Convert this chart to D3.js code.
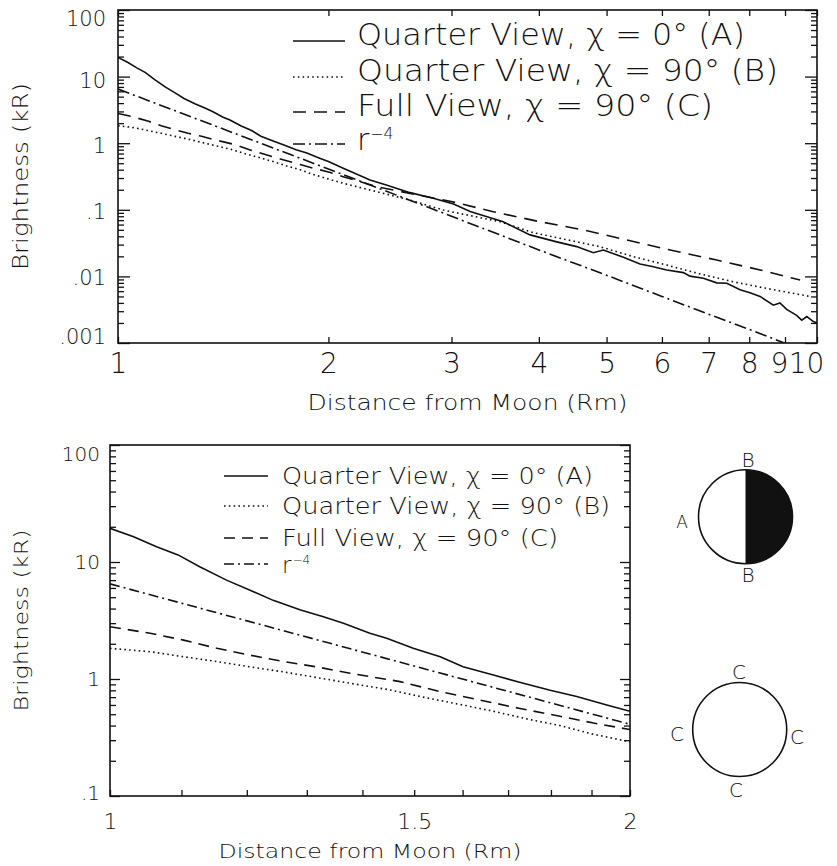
<!DOCTYPE html>
<html><head><meta charset="utf-8">
<script src="https://cdn.jsdelivr.net/npm/d3@7"></script>
<style>
body{margin:0;background:#fff;}
svg text{fill:#111;}
</style></head><body>
<svg id="c" width="837" height="866" xmlns="http://www.w3.org/2000/svg"></svg>
<script>
// ---------------- DATA ----------------
// Series A: Quarter View, chi = 0 deg (solid)
const distA = [1, 1.032, 1.064, 1.095, 1.127, 1.168, 1.21, 1.243, 1.288, 1.329, 1.365, 1.414, 1.446, 1.498, 1.553, 1.601, 1.667, 1.735, 1.798, 1.863, 1.939, 2.0, 2.1, 2.294, 2.42, 2.617, 2.825, 3.02, 3.19, 3.557, 3.886, 4.243, 4.531, 4.786, 4.947, 5.284, 5.582, 5.833, 6.095, 6.44, 6.58, 6.877, 7.187, 7.43, 7.76, 8.02, 8.29, 8.66, 8.85, 9.05, 9.35, 9.51, 9.67, 9.88, 10];
const brightA = [19.4, 16.4, 13.5, 11.5, 9.1, 7.0, 5.6, 4.7, 3.9, 3.4, 3.0, 2.46, 2.23, 1.83, 1.55, 1.27, 1.08, 0.92, 0.80, 0.71, 0.60, 0.53, 0.42, 0.28, 0.235, 0.181, 0.149, 0.122, 0.094, 0.066, 0.042, 0.033, 0.028, 0.0227, 0.0249, 0.0194, 0.0154, 0.0140, 0.0125, 0.0114, 0.0101, 0.0094, 0.0080, 0.0079, 0.0063, 0.0057, 0.0050, 0.0037, 0.0040, 0.0032, 0.0026, 0.0022, 0.0025, 0.0021, 0.0020];
// Series B: Quarter View, chi = 90 deg (dotted)
const distB = [1, 1.055, 1.103, 1.153, 1.205, 1.26, 1.317, 1.377, 1.45, 1.525, 1.6, 1.667, 1.75, 1.822, 1.9, 2.0, 2.1, 2.345, 2.617, 2.92, 3.332, 3.52, 3.928, 4.289, 4.893, 5.46, 6.095, 6.80, 7.59, 8.47, 9.77];
const brightB = [1.83, 1.71, 1.55, 1.41, 1.27, 1.15, 1.03, 0.92, 0.81, 0.69, 0.60, 0.53, 0.45, 0.40, 0.34, 0.29, 0.25, 0.187, 0.140, 0.099, 0.0745, 0.0662, 0.0453, 0.0373, 0.0279, 0.0198, 0.0148, 0.0109, 0.0083, 0.0066, 0.0050];
// Series C: Full View, chi = 90 deg (dashed)
const distC = [1, 1.055, 1.103, 1.153, 1.205, 1.26, 1.317, 1.377, 1.472, 1.553, 1.638, 1.727, 1.822, 1.905, 2.0, 2.1, 2.345, 3.05, 3.443, 4.015, 4.632, 5.343, 6.164, 7.187, 8.29, 9.46];
const brightC = [2.80, 2.46, 2.15, 1.83, 1.60, 1.41, 1.27, 1.12, 0.95, 0.78, 0.66, 0.56, 0.48, 0.42, 0.37, 0.314, 0.222, 0.128, 0.0935, 0.0662, 0.0498, 0.0352, 0.0249, 0.0176, 0.0125, 0.0088];
// Series D: r^-4 reference (dash-dot)
const distD = [1, 2, 3, 4, 5, 6, 7, 8, 9, 10];
const brightD = [6.5, 0.41, 0.080, 0.025, 0.0104, 0.0050, 0.0027, 0.0016, 0.00099, 0.00065];

const legendLabels = ["Quarter View, \u03C7 = 0\u00B0 (A)", "Quarter View, \u03C7 = 90\u00B0 (B)", "Full View, \u03C7 = 90\u00B0 (C)", "r"];
const legendSup = "\u22124";

const topXTicks = [1, 2, 3, 4, 5, 6, 7, 8, 9, 10];
const topXTickLabels = ["1", "2", "3", "4", "5", "6", "7", "8", "9", "10"];
const topYTicks = [100, 10, 1, 0.1, 0.01, 0.001];
const topYTickLabels = ["100", "10", "1", ".1", ".01", ".001"];

const bottomXTicks = [1, 1.5, 2];
const bottomXTickLabels = ["1", "1.5", "2"];
const bottomXMinorTicks = [1.1, 1.2, 1.3, 1.4, 1.6, 1.7, 1.8, 1.9];
const bottomYTicks = [100, 10, 1, 0.1];
const bottomYTickLabels = ["100", "10", "1", ".1"];

const xTitle = "Distance from Moon (Rm)";
const yTitle = "Brightness (kR)";
const diagram1Labels = ["B", "B", "A"];
const diagram2Labels = ["C", "C", "C", "C"];

// ---------------- STYLE / LAYOUT ----------------
const FONT = "'DejaVu Sans', 'Noto Sans', sans-serif";
const FW = 200;
const INK = "#111";
const svg = d3.select("#c");

const series = [
  {d: distA, v: brightA},
  {d: distB, v: brightB},
  {d: distC, v: brightC},
  {d: distD, v: brightD}
];

function dashFor(i, big) {
  if (i === 0) return null;
  if (i === 1) return "1.6,3.2";
  if (i === 2) return big ? "13,8" : "11,7";
  return big ? "12,4,2,4" : "10,4,2,4";
}

function panel(o) {
  const x = d3.scaleLog().domain(o.xDomain).range([o.l, o.r]);
  const y = d3.scaleLog().domain(o.yDomain).range([o.b, o.t]);
  const g = svg.append("g");

  const isMajor = v => Math.abs(Math.log10(v) - Math.round(Math.log10(v))) < 1e-6;
  const minorY = y.ticks().filter(v => !isMajor(v));

  const styleAxis = (sel, fs) => {
    sel.attr("font-family", FONT).attr("font-weight", FW).attr("font-size", fs).attr("color", INK);
    sel.select(".domain").remove();
    sel.selectAll(".tick line").attr("stroke-width", 1.3);
  };

  // Left axis majors with labels
  const yl = g.append("g").attr("transform", `translate(${o.l},0)`)
    .call(d3.axisLeft(y).tickValues(o.yTicks).tickSize(-o.majorLen)
      .tickPadding(o.yPad).tickFormat((d, i) => o.yTickLabels[i]))
    .call(s => styleAxis(s, o.yFont));
  if (o.yNudge) yl.selectAll(".tick text").attr("y", (d, i) => o.yNudge[i] || 0);
  g.append("g").attr("transform", `translate(${o.l},0)`)
    .call(d3.axisLeft(y).tickValues(minorY).tickSize(-o.minorLen).tickFormat(""))
    .call(s => styleAxis(s, o.yFont));
  // Right axis
  g.append("g").attr("transform", `translate(${o.r},0)`)
    .call(d3.axisRight(y).tickValues(o.yTicks).tickSize(-o.majorLen).tickFormat(""))
    .call(s => styleAxis(s, o.yFont));
  g.append("g").attr("transform", `translate(${o.r},0)`)
    .call(d3.axisRight(y).tickValues(minorY).tickSize(-o.minorLen).tickFormat(""))
    .call(s => styleAxis(s, o.yFont));
  // Bottom axis
  const xb = g.append("g").attr("transform", `translate(0,${o.b})`)
    .call(d3.axisBottom(x).tickValues(o.xTicks).tickSize(-o.xTickLen)
      .tickPadding(o.xPad).tickFormat((d, i) => o.xTickLabels[i]))
    .call(s => styleAxis(s, o.xFont));
  if (o.xNudge) xb.selectAll(".tick text").attr("dx", (d, i) => o.xNudge[i] || 0);
  if (o.xMinor) {
    g.append("g").attr("transform", `translate(0,${o.b})`)
      .call(d3.axisBottom(x).tickValues(o.xMinor).tickSize(-o.xTickLen).tickFormat(""))
      .call(s => styleAxis(s, o.xFont));
  }
  if (o.topTicks) {
    g.append("g").attr("transform", `translate(0,${o.t})`)
      .call(d3.axisTop(x).tickValues(o.xTicks).tickSize(-o.xTickLen).tickFormat(""))
      .call(s => styleAxis(s, o.xFont));
  }

  // Clip + curves
  const cid = "clip_" + o.name;
  svg.append("clipPath").attr("id", cid).append("rect")
    .attr("x", o.l).attr("y", o.t).attr("width", o.r - o.l).attr("height", o.b - o.t);
  const line = d3.line().x(p => x(p[0])).y(p => y(p[1]));
  const cg = g.append("g").attr("clip-path", `url(#${cid})`);
  series.forEach((s, i) => {
    const pts = s.d.map((r, k) => [r, s.v[k]]);
    cg.append("path").attr("d", line(pts)).attr("fill", "none")
      .attr("stroke", INK).attr("stroke-width", 1.6)
      .attr("stroke-dasharray", dashFor(i, o.big));
  });

  // Frame
  g.append("rect").attr("x", o.l).attr("y", o.t).attr("width", o.r - o.l).attr("height", o.b - o.t)
    .attr("fill", "none").attr("stroke", INK).attr("stroke-width", 1.6);

  // Titles
  g.append("text").attr("x", (o.l + o.r) / 2).attr("y", o.xTitleY)
    .attr("text-anchor", "middle").attr("font-family", FONT).attr("font-weight", FW)
    .attr("font-size", o.titleFont).attr("textLength", o.xTitleLen).attr("lengthAdjust", "spacingAndGlyphs")
    .text(xTitle);
  g.append("text").attr("transform", `translate(${o.yTitleX},${(o.t + o.b) / 2}) rotate(-90)`)
    .attr("text-anchor", "middle").attr("font-family", FONT).attr("font-weight", FW)
    .attr("font-size", o.titleFont).attr("textLength", o.yTitleLen).attr("lengthAdjust", "spacingAndGlyphs")
    .text(yTitle);

  // Legend
  const lg = g.append("g");
  legendLabels.forEach((lab, i) => {
    const ys = o.legSampleY[i];
    lg.append("path").attr("d", d3.line()([[o.legX0, ys], [o.legX1, ys]]))
      .attr("stroke", INK).attr("stroke-width", 1.6).attr("fill", "none")
      .attr("stroke-dasharray", dashFor(i, o.big));
    const t = lg.append("text").attr("x", o.legTextX).attr("y", o.legBaseY[i])
      .attr("font-family", FONT).attr("font-weight", FW).attr("font-size", o.legFont);
    if (i < 3) {
      t.attr("textLength", o.legLens[i]).attr("lengthAdjust", "spacingAndGlyphs").text(lab);
    } else {
      t.text(lab);
      t.append("tspan").attr("dy", -o.legFont * 0.38).attr("dx", 1)
        .attr("font-size", o.legFont * 0.52).text(legendSup);
    }
  });
}

// Top panel
panel({
  name: "top", big: true,
  l: 118, r: 817, t: 10, b: 343,
  xDomain: [1, 10], yDomain: [0.001, 100],
  xTicks: topXTicks, xTickLabels: topXTickLabels, xNudge: [0, 0, 0, 0, 0, 0, 0, 0, -6, -11],
  yTicks: topYTicks, yTickLabels: topYTickLabels, yNudge: [9, 4, 3, 2, 1, -6],
  majorLen: 12, minorLen: 6, xTickLen: 6, topTicks: true,
  yPad: 12, yFont: 21, xPad: 10, xFont: 28,
  titleFont: 21, xTitleY: 410, xTitleLen: 320, yTitleX: 28, yTitleLen: 187,
  legX0: 293, legX1: 345, legTextX: 357,
  legSampleY: [41, 77, 112, 144], legBaseY: [45, 81, 116, 150],
  legFont: 30, legLens: [388, 421, 356]
});

// Bottom panel
panel({
  name: "bottom", big: false,
  l: 110, r: 630, t: 445, b: 796,
  xDomain: [1, 2], yDomain: [0.1, 100],
  xTicks: bottomXTicks, xTickLabels: bottomXTickLabels, xMinor: bottomXMinorTicks,
  yTicks: bottomYTicks, yTickLabels: bottomYTickLabels, yNudge: [9, 0, 0, -3],
  majorLen: 10, minorLen: 6, xTickLen: 6, topTicks: false,
  yPad: 10, yFont: 20, xPad: 17, xFont: 22,
  titleFont: 20, xTitleY: 858, xTitleLen: 303, yTitleX: 28, yTitleLen: 182,
  legX0: 224, legX1: 268, legTextX: 282,
  legSampleY: [476, 506, 538, 564], legBaseY: [484, 514, 546, 573],
  legFont: 23, legLens: [311, 328, 276]
});

// ---------------- Diagrams ----------------
const dg = svg.append("g");
// Diagram 1: half-lit disk
(function () {
  const cx = 745.5, cy = 516.7, R = 47;
  dg.append("path")
    .attr("d", `M${cx},${cy - R} A${R},${R} 0 0 1 ${cx},${cy + R} Z`)
    .attr("fill", INK);
  dg.append("circle").attr("cx", cx).attr("cy", cy).attr("r", R)
    .attr("fill", "none").attr("stroke", INK).attr("stroke-width", 1.6);
  const pos = [[748, 460, 20], [748, 575, 20], [682, 522, 17]];
  diagram1Labels.forEach((lab, i) => {
    dg.append("text").attr("x", pos[i][0]).attr("y", pos[i][1]).attr("dy", "0.36em")
      .attr("text-anchor", "middle").attr("font-family", FONT).attr("font-weight", FW)
      .attr("font-size", pos[i][2]).text(lab);
  });
})();
// Diagram 2: full disk
(function () {
  const cx = 739.7, cy = 729.5, R = 47;
  dg.append("circle").attr("cx", cx).attr("cy", cy).attr("r", R)
    .attr("fill", "none").attr("stroke", INK).attr("stroke-width", 1.6);
  const pos = [[739, 672], [736, 790], [677, 734], [797, 737]];
  diagram2Labels.forEach((lab, i) => {
    dg.append("text").attr("x", pos[i][0]).attr("y", pos[i][1]).attr("dy", "0.36em")
      .attr("text-anchor", "middle").attr("font-family", FONT).attr("font-weight", FW)
      .attr("font-size", 20).text(lab);
  });
})();
</script>
</body></html>
